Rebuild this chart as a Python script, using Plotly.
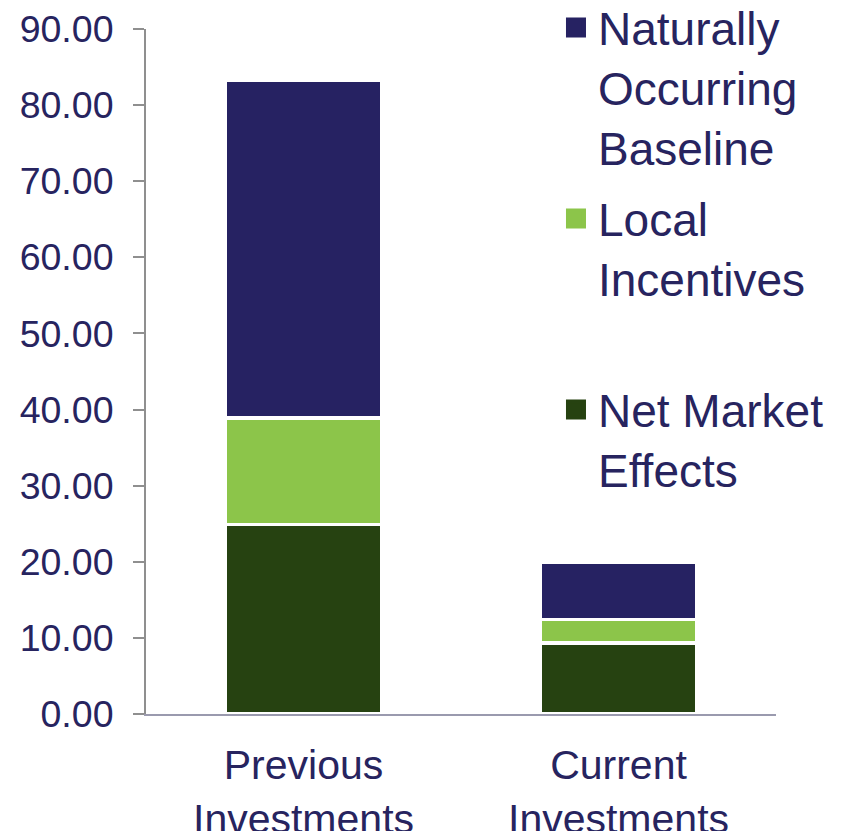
import plotly.graph_objects as go

categories = ["Previous<br>Investments", "Current<br>Investments"]
net_market_effects = [24.9, 9.3]
local_incentives = [14.0, 3.1]
naturally_occurring_baseline = [44.4, 7.5]

series_names = ["Naturally<br>Occurring<br>Baseline", "Local<br>Incentives", "Net Market<br>Effects"]
tick_vals = [0, 10, 20, 30, 40, 50, 60, 70, 80, 90]

NAVY = "#262262"
LIGHT = "#8CC54A"
DARK = "#264211"
TEXT = "#27245F"
FONT = "Liberation Sans, Arial, sans-serif"

fig = go.Figure()
for vals, col in [(net_market_effects, DARK), (local_incentives, LIGHT), (naturally_occurring_baseline, NAVY)]:
    fig.add_trace(go.Bar(x=categories, y=vals, marker=dict(color=col, line=dict(color="white", width=3.5)),
                         showlegend=False, hoverinfo="x+y"))

legend_specs = [
    (series_names[0], NAVY, "legend", 1.0555),
    (series_names[1], LIGHT, "legend2", 0.7766),
    (series_names[2], DARK, "legend3", 0.4978),
]
for name, col, lg, _ in legend_specs:
    fig.add_trace(go.Scatter(x=[None], y=[None], mode="markers", name=name, legend=lg,
                             marker=dict(symbol="square", size=16, color=col, line=dict(color=col, width=4))))

leg_common = dict(font=dict(family=FONT, size=46, color=TEXT), bgcolor="rgba(0,0,0,0)",
                  itemsizing="trace", valign="top", xanchor="left", yanchor="top", borderwidth=0,
                  itemwidth=34)

layout_legends = {}
for name, col, lg, yv in legend_specs:
    layout_legends[lg] = dict(leg_common, x=0.6476, y=yv)

fig.update_layout(
    width=844, height=823,
    margin=dict(l=138, r=76, t=21, b=117, autoexpand=False),
    barmode="stack", bargap=0.503,
    plot_bgcolor="white", paper_bgcolor="white",
    font=dict(family=FONT, color=TEXT),
    xaxis=dict(showline=True, linecolor="#9A9AAE", linewidth=2, ticks="", showgrid=False, automargin=False,
               tickangle=0, tickfont=dict(size=41, color=TEXT), ticklabelstandoff=14),
    yaxis=dict(range=[0, 90], tickvals=tick_vals, tickformat=".2f", showline=True, linecolor="#8F8F8F",
               linewidth=2, ticks="outside", ticklen=11, tickcolor="#8F8F8F", tickwidth=2, automargin=False,
               showgrid=False, zeroline=False, tickfont=dict(size=37.5, color=TEXT), ticklabelstandoff=12),
    **layout_legends,
)

fig.write_html("out.html")
